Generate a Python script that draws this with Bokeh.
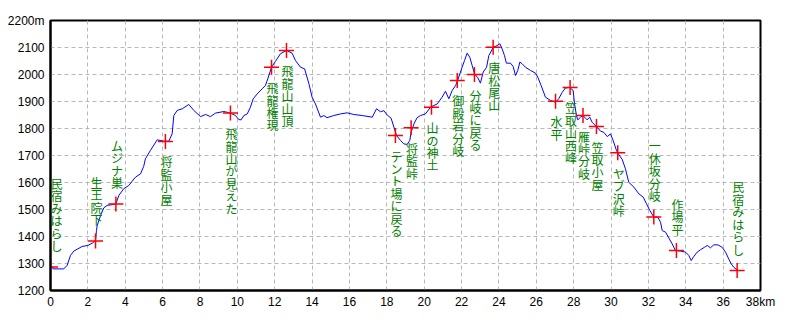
from bokeh.plotting import figure
from bokeh.models import ColumnDataSource, FixedTicker, LabelSet, Label
from bokeh.embed import file_html
from bokeh.resources import INLINE
from bokeh.core.properties import value

# --- elevation profile (km, m) ---
dist_km = [0.00, 0.14, 0.71, 0.89, 1.07, 1.25, 1.69, 2.00, 2.23, 2.41, 2.46, 2.50, 2.68, 2.85,
           3.03, 3.39, 3.50, 3.66, 3.92, 4.19, 4.55, 4.82, 4.99, 5.08, 5.35, 5.71, 6.07, 6.33,
           6.51, 6.60, 6.78, 7.05, 7.40, 7.67, 8.03, 8.30, 8.56, 8.83, 9.28, 9.63, 9.90, 10.08,
           10.20, 10.35, 10.53, 10.70, 10.85, 11.06, 11.33, 11.50, 11.63, 11.83, 12.04, 12.31,
           12.63, 12.93, 13.11, 13.38, 13.60, 13.83, 14.00, 14.18, 14.45, 14.63, 14.80, 15.16,
           15.52, 15.88, 16.23, 16.68, 17.22, 17.45, 17.66, 17.84, 18.02, 18.23, 18.38, 18.52,
           18.73, 18.91, 19.09, 19.23, 19.30, 19.45, 19.62, 19.80, 20.07, 20.34, 20.70, 20.96,
           21.14, 21.32, 21.50, 21.68, 21.80, 22.03, 22.16, 22.30, 22.44, 22.57, 22.69, 22.87,
           23.01, 23.16, 23.34, 23.46, 23.70, 23.90, 24.05, 24.17, 24.30, 24.40, 24.62, 24.76,
           24.89, 25.01, 25.12, 25.24, 25.42, 25.69, 25.96, 26.08, 26.26, 26.49, 26.76, 27.03,
           27.20, 27.39, 27.56, 27.79, 27.97, 28.05, 28.15, 28.22, 28.37, 28.50, 28.72, 28.86,
           28.99, 29.22, 29.44, 29.61, 29.80, 29.97, 30.11, 30.29, 30.36, 30.60, 30.77, 30.95,
           31.22, 31.49, 31.72, 31.90, 32.08, 32.29, 32.50, 32.65, 32.74, 32.92, 33.09, 33.27,
           33.45, 33.72, 33.99, 34.16, 34.29, 34.43, 34.61, 34.79, 35.00, 35.15, 35.32, 35.50,
           35.72, 35.95, 36.13, 36.30, 36.43, 36.57, 36.75]
elev_m = [1293, 1280, 1280, 1293, 1330, 1346, 1363, 1367, 1375, 1385, 1422, 1441, 1478, 1506,
          1515, 1519, 1522, 1552, 1577, 1589, 1620, 1632, 1660, 1688, 1719, 1758, 1753, 1753,
          1780, 1848, 1867, 1873, 1889, 1867, 1844, 1852, 1844, 1857, 1863, 1857, 1848, 1833,
          1832, 1848, 1854, 1879, 1910, 1928, 1947, 1959, 1984, 2027, 2049, 2077,
          2089, 2079, 2052, 2027, 2021, 1966, 1916, 1891, 1842, 1848, 1840, 1848,
          1854, 1858, 1852, 1848, 1842, 1873, 1862, 1866, 1850, 1838, 1805, 1774,
          1756, 1743, 1741, 1756, 1786, 1817, 1840, 1848, 1854, 1879, 1891, 1916,
          1938, 1910, 1941, 1959, 1980, 2027, 2052, 2079, 2064, 2033, 2003, 1988,
          1968, 2009, 2027, 2070, 2101, 2107, 2114, 2095, 2070, 2042, 2042, 2030,
          1996, 2015, 2046, 2040, 2027, 2015, 2005, 1990, 1959, 1916, 1904, 1897,
          1910, 1934, 1950, 1952, 1941, 1891, 1848, 1832, 1842, 1848, 1832, 1842,
          1823, 1807, 1790, 1786, 1770, 1780, 1756, 1719, 1709, 1685, 1651, 1601,
          1583, 1558, 1546, 1521, 1496, 1472, 1472, 1453, 1422, 1416, 1395, 1373,
          1348, 1346, 1342, 1330, 1311, 1326, 1342, 1351, 1360, 1367, 1358, 1369,
          1369, 1360, 1342, 1317, 1299, 1286, 1276]

# --- waypoints ---
wp_names = ["民宿みはらし", "生王院下", "ムジナ巣", "将監小屋", "飛龍山が見えた", "飛龍権現",
            "飛龍山山頂", "テント場に戻る", "将監峠", "山の神土", "御殿岩分岐", "分岐に戻る",
            "唐松尾山", "水平", "笠取山西峰", "雁峠分岐", "笠取小屋", "ヤブ沢峠",
            "一休坂分岐", "作場平", "民宿みはらし"]
wp_km = [0.0, 2.41, 3.50, 6.15, 9.63, 11.83, 12.63, 18.46, 19.30, 20.39, 21.77, 22.69,
         23.69, 27.03, 27.81, 28.50, 29.22, 30.36, 32.29, 33.50, 36.75]
wp_elev = [1287, 1383, 1520, 1752, 1857, 2027, 2089, 1774, 1803, 1879, 1978, 2000,
           2101, 1901, 1952, 1848, 1807, 1710, 1472, 1348, 1274]
wp_above = [True, True, True, False, False, False, False, False, False, False, False, False,
            False, False, False, False, False, False, True, True, True]

x_ticks = list(range(0, 39, 2))
y_ticks = list(range(1200, 2201, 100))
x_tick_labels = {t: str(t) for t in x_ticks}
x_tick_labels[38] = "38km"
y_tick_labels = {t: str(t) for t in y_ticks}
y_tick_labels[2200] = "2200m"

p = figure(width=792, height=312, output_backend="svg", toolbar_location=None,
           x_range=(0, 38), y_range=(1200, 2200),
           min_border_left=50, min_border_right=32, min_border_top=20, min_border_bottom=22)
p.background_fill_color = "white"
p.border_fill_color = "white"
p.outline_line_color = "black"
p.outline_line_width = 2
p.outline_line_alpha = 1.0

for ax in (p.xaxis, p.yaxis):
    ax.axis_line_color = "black"
    ax.axis_line_width = 2
    ax.major_tick_line_color = None
    ax.minor_tick_line_color = None
    ax.major_tick_in = 0
    ax.major_tick_out = 0
    ax.major_label_text_font = "Liberation Sans"
    ax.major_label_text_font_size = "12px"
    ax.major_label_text_color = "black"

p.xaxis.ticker = FixedTicker(ticks=x_ticks)
p.yaxis.ticker = FixedTicker(ticks=y_ticks)
p.xaxis.major_label_overrides = x_tick_labels
p.yaxis.major_label_overrides = y_tick_labels
p.xaxis.major_label_standoff = 4
p.yaxis.major_label_standoff = 6

for g in (p.xgrid, p.ygrid):
    g.grid_line_color = "#b8b8b8"
    g.grid_line_dash = "4 3"
    g.grid_line_width = 1

p.line(dist_km, elev_m, line_color="#0000ff", line_width=1)

p.scatter(wp_km, wp_elev, marker="cross", size=15, line_color="#ff0000", line_width=1.5)

vert = ["\n".join(list(n)) for n in wp_names]
common = dict(text_font_size="12px", text_color="#008000", text_align="center",
              text_line_height=0.73)

# first waypoint label sits on the axis line: nudge it inside the frame so it is not cut
p.add_layout(Label(x=wp_km[0], y=wp_elev[0], text=vert[0], text_baseline="bottom",
                   text_font="Noto Sans CJK JP", x_offset=6, y_offset=13, **common))

below = dict(x=[k for k, a in zip(wp_km[1:], wp_above[1:]) if not a],
             y=[e for e, a in zip(wp_elev[1:], wp_above[1:]) if not a],
             t=[v for v, a in zip(vert[1:], wp_above[1:]) if not a])
above = dict(x=[k for k, a in zip(wp_km[1:], wp_above[1:]) if a],
             y=[e for e, a in zip(wp_elev[1:], wp_above[1:]) if a],
             t=[v for v, a in zip(vert[1:], wp_above[1:]) if a])

p.add_layout(LabelSet(x="x", y="y", text="t", source=ColumnDataSource(below),
                      text_font=value("Noto Sans CJK JP"),
                      text_baseline="top", x_offset=1, y_offset=-12, **common))
p.add_layout(LabelSet(x="x", y="y", text="t", source=ColumnDataSource(above),
                      text_font=value("Noto Sans CJK JP"),
                      text_baseline="bottom", x_offset=1, y_offset=13, **common))

open("out.html", "w").write(file_html(p, INLINE))
